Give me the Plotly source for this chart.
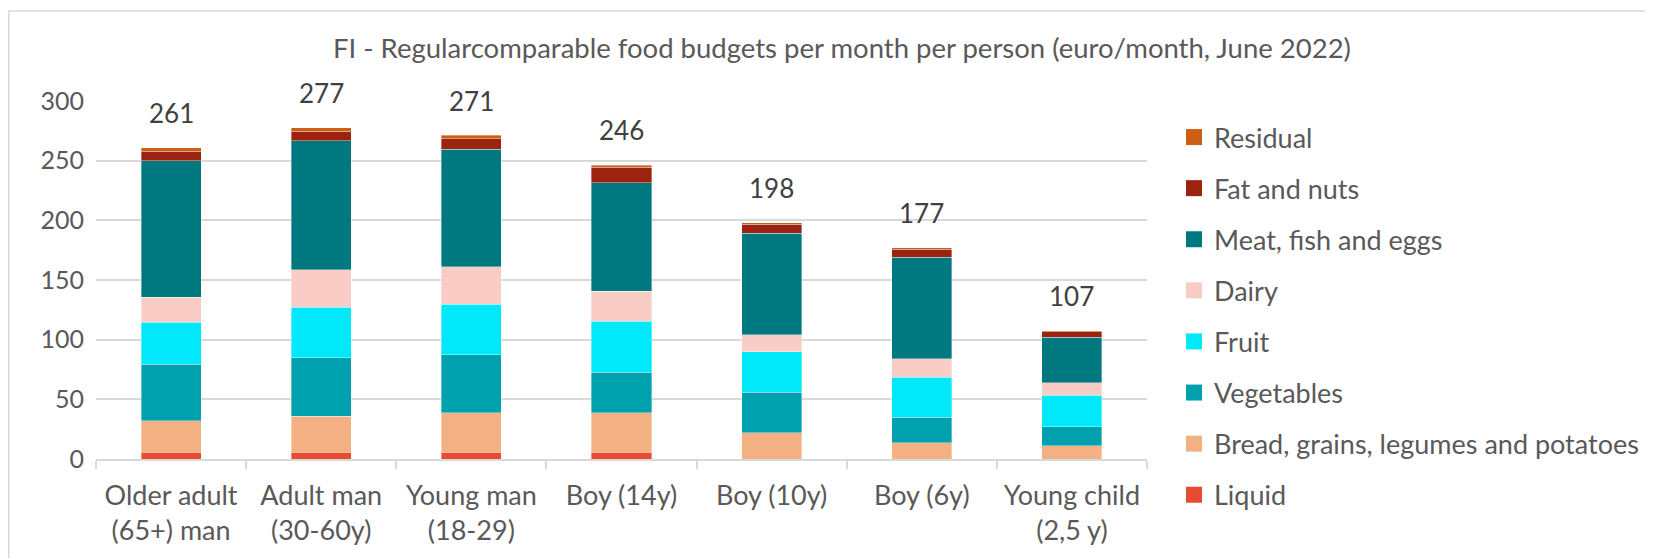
import plotly.graph_objects as go

categories = ["Older adult<br>(65+) man", "Adult man<br>(30-60y)", "Young man<br>(18-29)",
              "Boy (14y)", "Boy (10y)", "Boy (6y)", "Young child<br>(2,5 y)"]

liquid = [5.6, 5.6, 5.6, 5.6, 0, 0, 0]
bread = [26.4, 30.3, 33.1, 33.1, 22.1, 13.7, 10.9]
vegetables = [47.6, 48.8, 48.8, 34.2, 34.0, 21.3, 16.0]
fruit = [34.8, 42.6, 42.3, 42.6, 33.6, 33.7, 26.4]
dairy = [21.0, 31.4, 31.4, 25.0, 14.6, 15.4, 10.6]
meat = [114.4, 107.9, 98.4, 91.1, 84.9, 84.9, 38.1]
fat = [8.1, 8.1, 8.7, 12.9, 7.6, 6.8, 4.5]
residual = [3.1, 2.8, 2.8, 1.6, 1.1, 1.4, 0.9]
totals = [261, 277, 271, 246, 198, 177, 107]

series = [
    ("Liquid", liquid, "#E84C30"),
    ("Bread, grains, legumes and potatoes", bread, "#F3B083"),
    ("Vegetables", vegetables, "#00A1AE"),
    ("Fruit", fruit, "#00E8FA"),
    ("Dairy", dairy, "#F9CCC6"),
    ("Meat, fish and eggs", meat, "#00787F"),
    ("Fat and nuts", fat, "#9B2310"),
    ("Residual", residual, "#CD5F14"),
]

FONT = "Lato"
GREY = "#595959"

# figure geometry (page has an 8px body margin)
W, H = 1645, 550
L, R, T, B = 88, 506, 93, 99
PW, PH = W - L - R, H - T - B

fig = go.Figure()
for i, (name, vals, col) in enumerate(series):
    fig.add_trace(go.Bar(
        x=categories, y=vals, name=name, legendgroup=name, showlegend=False,
        marker=dict(color=col, line=dict(color="rgba(255,255,255,0.6)", width=0.6)),
        hoverinfo="name+y",
    ))
    # legend-only entry with a larger square swatch
    fig.add_trace(go.Scatter(
        x=[None], y=[None], mode="markers", name=name, legendgroup=name,
        legendrank=1000 - i * 10,
        marker=dict(symbol="square", size=16, color=col, line=dict(width=0)),
        hoverinfo="skip",
    ))

for cat, tot in zip(categories, totals):
    fig.add_annotation(x=cat, y=tot, text=str(tot), showarrow=False,
                       yshift=35, yanchor="middle",
                       font=dict(family=FONT, size=26, color="#404040"))

fig.update_layout(
    width=W, height=H,
    margin=dict(l=L, r=R, t=T, b=B, autoexpand=False),
    barmode="stack", bargap=0.6,
    paper_bgcolor="white", plot_bgcolor="white",
    font=dict(family=FONT, size=27, color=GREY),
    title=dict(text="FI - Regularcomparable food budgets per month per person (euro/month, June 2022)",
               x=834 / W, y=1 - 40 / H, xanchor="center", yanchor="middle",
               font=dict(family=FONT, size=27.5, color=GREY)),
    legend=dict(traceorder="grouped", tracegroupgap=13, maxheight=540,
                x=(1166 - L) / PW, y=(H - B - 105) / PH, xanchor="left", yanchor="top",
                font=dict(family=FONT, size=27, color=GREY),
                bgcolor="rgba(0,0,0,0)"),
    showlegend=True,
)

fig.update_yaxes(range=[0, 300], dtick=50, showgrid=True, gridcolor="#D9D9D9", gridwidth=1.5,
                 zeroline=False, showline=False, ticks="", ticklen=0,
                 ticklabelstandoff=11, automargin=False,
                 tickfont=dict(family=FONT, size=25, color=GREY))
fig.update_xaxes(showline=True, linecolor="#D9D9D9", linewidth=1.5,
                 ticks="outside", tickson="boundaries", ticklen=8, tickcolor="#D9D9D9", tickwidth=1.5,
                 ticklabelstandoff=12, automargin=False,
                 tickfont=dict(family=FONT, size=27, color=GREY))

fig.add_shape(type="rect", xref="paper", yref="paper",
              x0=(0.75 - L) / PW, x1=(1700 - L) / PW,
              y0=(H - B - 600) / PH, y1=(H - B - 3) / PH,
              line=dict(color="#D9D9D9", width=1.5), fillcolor="rgba(0,0,0,0)", layer="below")

fig.write_html("out.html")
